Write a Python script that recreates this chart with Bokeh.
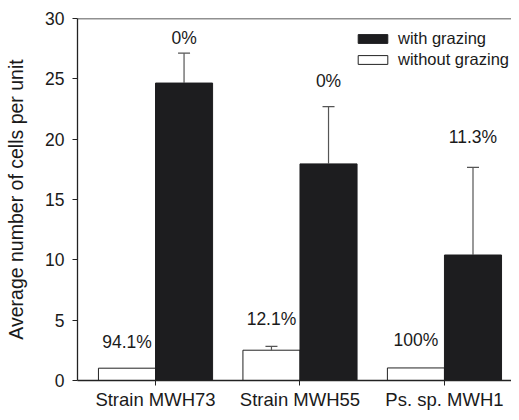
from bokeh.plotting import figure
from bokeh.models import (ColumnDataSource, Whisker, TeeHead, FixedTicker, Range1d,
                          Span, Legend, LegendItem)
from bokeh.core.properties import value
from bokeh.embed import file_html
from bokeh.resources import INLINE

# ---- data ----
categories = ["Strain MWH73", "Strain MWH55", "Ps. sp. MWH1"]
with_grazing = [24.65, 17.95, 10.4]
with_err = [2.48, 4.74, 7.27]
without_grazing = [1.02, 2.51, 1.04]
without_err = [0.0, 0.32, 0.0]
with_pct = ["0%", "0%", "11.3%"]
without_pct = ["94.1%", "12.1%", "100%"]
with_pct_y = [28.4, 24.86, 20.2]
without_pct_y = [3.23, 5.13, 3.37]
y_ticks = [0, 5, 10, 15, 20, 25, 30]

FONT = "Liberation Sans"
BLACK = "#1d1d1f"
TXT = "#1a1a1a"
bw = 0.395
half = bw / 2

xs = [i + 1 for i in range(len(categories))]
x_wo = [x - half for x in xs]
x_w = [x + half for x in xs]

p = figure(width=511, height=412, output_backend="svg", toolbar_location=None,
           x_range=Range1d(0.46, 3.464), y_range=Range1d(0, 30),
           min_border_left=77, min_border_top=18, min_border_right=0,
           min_border_bottom=26)
p.outline_line_color = None
p.xgrid.visible = False
p.ygrid.visible = False
p.background_fill_color = "white"

src_wo = ColumnDataSource(dict(x=x_wo, top=without_grazing,
                               upper=[v + e for v, e in zip(without_grazing, without_err)],
                               err=without_err))
src_w = ColumnDataSource(dict(x=x_w, top=with_grazing,
                              upper=[v + e for v, e in zip(with_grazing, with_err)],
                              err=with_err))

r_wo = p.vbar(x="x", top="top", width=bw, bottom=0, source=src_wo,
              fill_color="white", line_color="#222222", line_width=1)
r_w = p.vbar(x="x", top="top", width=bw, bottom=0, source=src_w,
             fill_color=BLACK, line_color=BLACK, line_width=1)

# error bars (upper only)
for s in (src_w, src_wo):
    d = s.data
    keep = [i for i, e in enumerate(d["err"]) if e > 0]
    ws = ColumnDataSource(dict(x=[d["x"][i] for i in keep],
                               lower=[d["top"][i] for i in keep],
                               upper=[d["upper"][i] for i in keep]))
    wk = Whisker(source=ws, base="x", lower="lower", upper="upper",
                 line_color="#555555", line_width=1.2, lower_head=None,
                 upper_head=TeeHead(size=12, line_color="#555555", line_width=1.2),
                 level="overlay")
    p.add_layout(wk)

# percentage labels
p.text(x=x_w, y=with_pct_y, text=with_pct, text_font=value(FONT),
       text_font_size="17.5px", text_align="center", text_baseline="middle",
       text_color=TXT)
p.text(x=x_wo, y=without_pct_y, text=without_pct, text_font=value(FONT),
       text_font_size="17.5px", text_align="center", text_baseline="middle",
       text_color=TXT)

# top border line
p.add_layout(Span(location=30, dimension="width", line_color="#222222", line_width=1.3))

# axes
p.yaxis.ticker = FixedTicker(ticks=y_ticks)
p.xaxis.ticker = FixedTicker(ticks=xs)
p.xaxis.major_label_overrides = {x: c for x, c in zip(xs, categories)}
for ax in (p.xaxis[0], p.yaxis[0]):
    ax.axis_line_color = "#222222"
    ax.axis_line_width = 1.3
    ax.major_tick_line_color = "#222222"
    ax.major_tick_out = 5
    ax.major_tick_in = 0
    ax.minor_tick_line_color = None
    ax.major_label_text_font = FONT
    ax.major_label_text_color = TXT
p.xaxis.major_label_text_font_size = "18.5px"
p.yaxis.major_label_text_font_size = "17.5px"
p.yaxis.major_label_standoff = 8
p.xaxis.major_label_standoff = 3
p.yaxis.axis_label = "Average number of cells per unit"
p.yaxis.axis_label_text_font = FONT
p.yaxis.axis_label_text_font_size = "19.5px"
p.yaxis.axis_label_text_font_style = "normal"
p.yaxis.axis_label_text_color = TXT
p.yaxis.axis_label_standoff = 15

legend = Legend(items=[LegendItem(label="with grazing", renderers=[r_w]),
                       LegendItem(label="without grazing", renderers=[r_wo])],
                location=(277, 311), orientation="vertical",
                glyph_width=37, glyph_height=11, label_standoff=7,
                label_height=20, spacing=1, padding=0, margin=0,
                border_line_color=None, background_fill_alpha=0,
                label_text_font=FONT, label_text_font_size="16.5px",
                label_text_color=TXT)
p.add_layout(legend)

open("out.html", "w").write(file_html(p, INLINE))
